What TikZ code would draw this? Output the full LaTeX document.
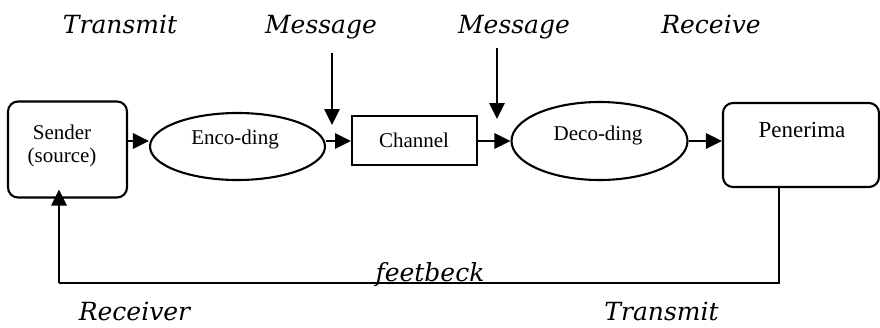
\documentclass[tikz,border=0pt]{standalone}
\usepackage{fontspec}
\setmainfont{Liberation Serif}
\newfontfamily\labfont{DejaVu Serif}
\usetikzlibrary{arrows.meta,shapes.geometric}
\tikzset{
  boxtext/.style={font=\fontsize{21}{23}\selectfont, align=center, inner sep=0pt},
  labtext/.style={font=\labfont\itshape\fontsize{25}{27}\selectfont, inner sep=0pt, anchor=base},
  rbox/.style={draw, line width=2.1pt, rounded corners=10pt, inner sep=0pt},
  sbox/.style={draw, line width=1.9pt, inner sep=0pt},
  oval/.style={draw, line width=2.1pt, ellipse, inner sep=0pt},
  arr/.style={line width=2.9pt, -{Triangle[length=16pt,width=15pt]}},
  fbline/.style={line width=2.4pt}
}
\begin{document}
\begin{tikzpicture}[x=1pt,y=-1pt]
\useasboundingbox (0,0) rectangle (880,327);

% blocks
\node[rbox, minimum width=119pt, minimum height=96pt] (snd) at (67.5,149.5) {};
\node[oval, minimum width=175pt, minimum height=67pt] (enc) at (237.5,146.5) {};
\node[sbox, minimum width=125pt, minimum height=49pt] (chn) at (414.5,140.5) {};
\node[oval, minimum width=176pt, minimum height=78pt] (dec) at (599.5,141) {};
\node[rbox, minimum width=156pt, minimum height=84pt] (pen) at (801,145) {};

% block texts
\node[boxtext] (sndT) at (62,146) {Sender\\(source)};
\node[boxtext, anchor=base] (encT) at (235,144) {Enco-ding};
\node[boxtext, anchor=base] (chnT) at (414,147) {Channel};
\node[boxtext, anchor=base] (decT) at (598,140) {Deco-ding};
\node[boxtext, anchor=base, font=\fontsize{23}{25}\selectfont] (penT) at (802,137) {Penerima};

% forward flow
\coordinate (flow) at (0,141);
\draw[arr] (snd.east |- flow) -- (enc.west |- flow);
\draw[arr] (enc.east |- flow) -- (chn.west |- flow);
\draw[arr] (chn.east |- flow) -- (dec.west |- flow);
\draw[arr] (dec.east |- flow) -- (pen.west |- flow);

% incoming messages
\coordinate (m1top) at (332,53);
\coordinate (m1tip) at (332,125);
\coordinate (m2top) at (497,48);
\coordinate (m2tip) at (497,119);
\draw[arr] (m1top) -- (m1tip);
\draw[arr] (m2top) -- (m2tip);

% feedback loop
\coordinate (fbR) at (779,283);
\coordinate (fbL) at (59,283);
\draw[fbline] (pen.south -| fbR) -- (fbR) -- (fbL);
\draw[arr, shorten >=-9pt] (fbL) -- (snd.south -| fbL);

% labels
\node[labtext] (lt1) at (120,33) {Transmit};
\node[labtext] (lt2) at (321,33) {Message};
\node[labtext] (lt3) at (514,33) {Message};
\node[labtext] (lt4) at (711,33) {Receive};
\node[labtext] (lfb) at (430,281) {feetbeck};
\node[labtext] (lb1) at (134.5,320) {Receiver};
\node[labtext] (lb2) at (661.5,320) {Transmit};
\end{tikzpicture}
\end{document}
